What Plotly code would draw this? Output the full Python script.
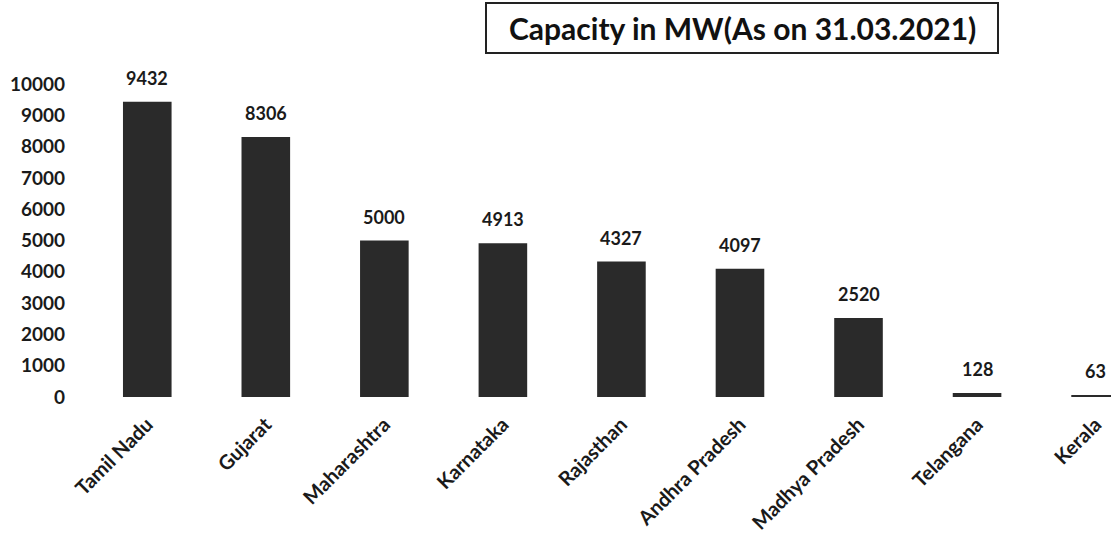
import plotly.graph_objects as go

states = ["Tamil Nadu", "Gujarat", "Maharashtra", "Karnataka", "Rajasthan",
          "Andhra Pradesh", "Madhya Pradesh", "Telangana", "Kerala"]
capacity_mw = [9432, 8306, 5000, 4913, 4327, 4097, 2520, 128, 63]
y_ticks = [0, 1000, 2000, 3000, 4000, 5000, 6000, 7000, 8000, 9000, 10000]
title_text = "Capacity in MW(As on 31.03.2021)"

FONT = "Lato, 'Open Sans', sans-serif"
BAR = "#2a2a2a"
INK = "#1a1a1a"

L, R, T, B = 88, 0, 84, 140
W, H = 1111, 537
pw, ph = W - L - R, H - T - B


def px_x(x):
    return (x - L) / pw


def px_y(y):
    return (H - B - y) / ph


fig = go.Figure(go.Bar(
    x=states, y=capacity_mw,
    marker=dict(color=BAR, line=dict(width=0)),
    width=0.41,
    cliponaxis=True,
))

# value labels above each bar
for s, v in zip(states, capacity_mw):
    fig.add_annotation(
        x=s, y=v, xref="x", yref="y", text=str(v), showarrow=False,
        yanchor="middle", yshift=24,
        font=dict(family=FONT, size=18, color=INK, weight="bold"),
    )

# boxed title
fig.add_annotation(
    x=px_x(742), y=px_y(28), xref="paper", yref="paper", text=title_text,
    showarrow=False, xanchor="center", yanchor="middle",
    font=dict(family=FONT, size=30, color="#111111", weight="bold"),
)
fig.add_shape(
    type="rect", xref="paper", yref="paper",
    x0=px_x(486), x1=px_x(998), y0=px_y(53), y1=px_y(3),
    line=dict(color="#222222", width=2), fillcolor="rgba(0,0,0,0)",
)

fig.update_layout(
    width=W, height=H,
    margin=dict(l=L, r=R, t=T, b=B, pad=0, autoexpand=False),
    paper_bgcolor="white", plot_bgcolor="white",
    showlegend=False,
    xaxis=dict(
        range=[-0.5, 8.13], tickangle=-45, showgrid=False, showline=False,
        zeroline=False, ticks="", ticklabelstandoff=11, automargin=False,
        tickfont=dict(family=FONT, size=20, color=INK, weight="bold"),
        fixedrange=True,
    ),
    yaxis=dict(
        range=[0, 10000], tickvals=y_ticks, ticktext=[str(t) for t in y_ticks],
        showgrid=False, showline=False, zeroline=False, ticks="",
        ticklabelstandoff=22, automargin=False,
        tickfont=dict(family=FONT, size=19, color=INK, weight="bold"),
        fixedrange=True,
    ),
)

fig.write_html("out.html", config={"displayModeBar": False})
